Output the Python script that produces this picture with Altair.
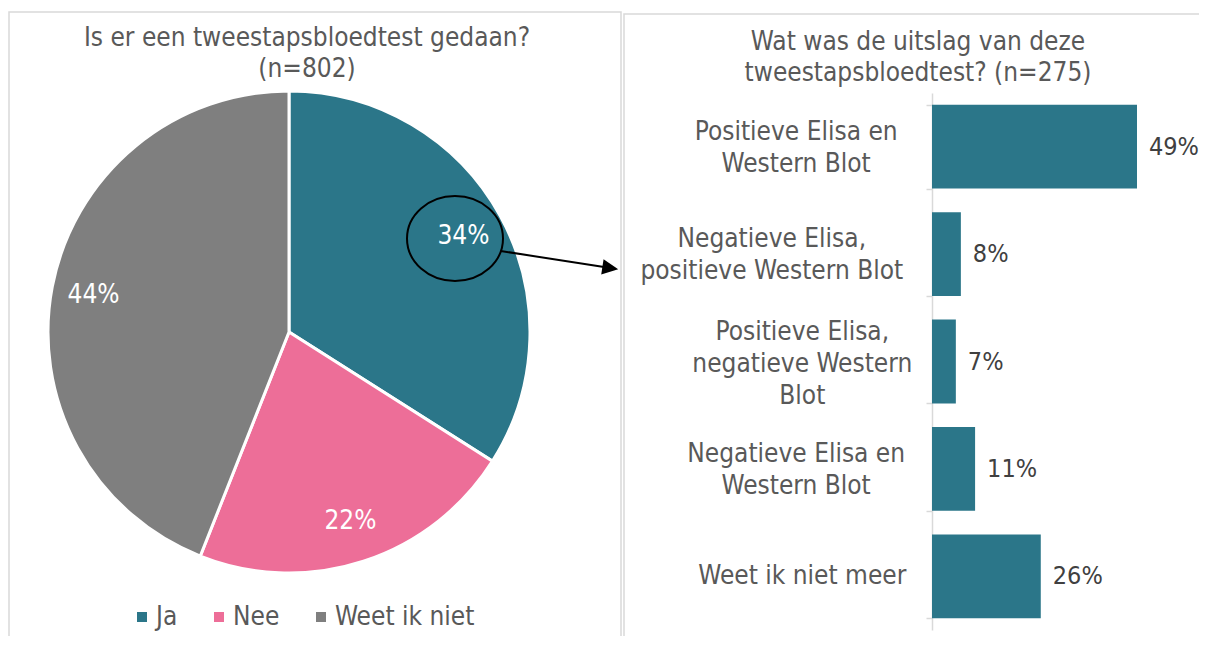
import altair as alt
import pandas as pd

FONT = "DejaVu Sans Condensed, Liberation Sans, Arial, sans-serif"

# ---- data ----
pie_cats = ["Ja", "Nee", "Weet ik niet"]
pie_vals = [34, 22, 44]
pie_colors = ["#2B7689", "#ED6E98", "#7F7F7F"]

bar_cats = [
    "Positieve Elisa en|Western Blot",
    "Negatieve Elisa,|positieve Western Blot",
    "Positieve Elisa,|negatieve Western|Blot",
    "Negatieve Elisa en|Western Blot",
    "Weet ik niet meer",
]
# bar lengths as drawn in the picture, and the printed labels
bar_vals = [49, 6.9, 5.7, 10.3, 26]
bar_labels = ["49%", "8%", "7%", "11%", "26%"]

left_title = ["Is er een tweestapsbloedtest gedaan?", "(n=802)"]
right_title = ["Wat was de uitslag van deze", "tweestapsbloedtest? (n=275)"]

TEAL = "#2B7689"
GREY_TXT = "#595959"
BORDER = "#D9D9D9"

pie_df = pd.DataFrame({"cat": pie_cats, "val": pie_vals, "ord": list(range(len(pie_cats)))})
bar_df = pd.DataFrame({"cat": bar_cats, "val": bar_vals, "lab": bar_labels})
one = pd.DataFrame({"a": [0]})

# ---- panel borders ----
border_l = alt.Chart(one).mark_rect(fillOpacity=0, stroke=BORDER, strokeWidth=1.5).encode(
    x=alt.value(1), x2=alt.value(613), y=alt.value(4), y2=alt.value(760)
)
border_r = alt.Chart(one).mark_rect(fillOpacity=0, stroke=BORDER, strokeWidth=1.5).encode(
    x=alt.value(616), x2=alt.value(1400), y=alt.value(6), y2=alt.value(760)
)

# ---- titles ----
def title_layer(lines, xc, y0):
    return alt.Chart(pd.DataFrame({"t": ["|".join(lines)]})).transform_calculate(
        lines="split(datum.t, '|')"
    ).mark_text(font=FONT, fontSize=26, color=GREY_TXT, align="center", baseline="middle", lineHeight=31).encode(
        x=alt.value(xc), y=alt.value(y0), text="lines:N"
    )

tl = title_layer(left_title, 299, 30)
tr = title_layer(right_title, 910, 34)

# ---- pie ----
base_pie = alt.Chart(pie_df).transform_calculate(lab="datum.val + '%'").encode(
    theta=alt.Theta("val:Q", stack=True),
    order=alt.Order("ord:Q"),
)
arcs = base_pie.mark_arc(outerRadius=241, stroke="white", strokeWidth=3).encode(
    x=alt.value(281),
    y=alt.value(324),
    color=alt.Color(
        "cat:N",
        scale=alt.Scale(domain=pie_cats, range=pie_colors),
        legend=alt.Legend(
            title=None,
            orient="none",
            legendX=121,
            legendY=596,
            direction="horizontal",
            symbolType="square",
            symbolSize=100,
            symbolStrokeWidth=0,
            labelFontSize=26,
            labelFont=FONT,
            labelColor=GREY_TXT,
            columnPadding=28,
            labelOffset=1,
            padding=0,
        ),
    ),
)
pie_txt = base_pie.mark_text(radius=199, font=FONT, fontSize=26, color="white").encode(
    x=alt.value(281), y=alt.value(324), text="lab:N"
)

# ---- annotation: ellipse + arrow ----
ellipse = alt.Chart(one).mark_point(
    shape="M -1 0 A 1 0.885 0 1 1 1 0 A 1 0.885 0 1 1 -1 0 Z",
    size=9216, filled=False, color="black", strokeWidth=2, opacity=1,
).encode(x=alt.value(447), y=alt.value(230.5))
arrow_line = alt.Chart(one).mark_rule(color="black", strokeWidth=2).encode(
    x=alt.value(492.7), y=alt.value(243), x2=alt.value(596), y2=alt.value(259)
)
arrow_head = alt.Chart(one).mark_point(
    shape="M 1 0 L -1 -0.95 L -1 0.95 Z", size=256, filled=True, color="black", angle=8.85, opacity=1,
).encode(x=alt.value(602.3), y=alt.value(260.1))

# ---- bars ----
ysc = alt.Scale(domain=bar_cats, range=[85, 622], paddingInner=0.22, paddingOuter=0.11)
xsc = alt.Scale(domain=[0, 49], range=[924, 1129], nice=False, zero=True)

bars = alt.Chart(bar_df).mark_bar(color=TEAL).encode(
    x=alt.X("val:Q", scale=xsc, axis=None),
    y=alt.Y(
        "cat:N",
        scale=ysc,
        sort=bar_cats,
        axis=alt.Axis(
            labels=False, title=None, offset=-924, grid=False,
            domainColor=BORDER, domainWidth=1.5, tickColor=BORDER, tickWidth=1.5,
            tickSize=6, tickBand="extent",
        ),
    ),
)
val_txt = alt.Chart(bar_df).mark_text(
    align="left", baseline="middle", dx=12, font=FONT, fontSize=25, color="#404040"
).encode(
    x=alt.X("val:Q", scale=xsc, axis=None),
    y=alt.Y("cat:N", scale=ysc, sort=bar_cats),
    text="lab:N",
)
cat_txt = alt.Chart(bar_df).transform_calculate(
    lines="split(datum.cat, '|')"
).transform_calculate(
    maxlen="max(length(datum.lines[0]), length(datum.lines[1] || ''), length(datum.lines[2] || ''))",
    nlines="length(datum.lines)",
).mark_text(
    align="center", baseline="middle", font=FONT, fontSize=26, color=GREY_TXT, lineHeight=32,
    dx=alt.ExprRef("-datum.maxlen * 6.1"),
    dy=alt.ExprRef("-(datum.nlines - 1) * 15"),
).encode(
    x=alt.value(898),
    y=alt.Y("cat:N", scale=ysc, sort=bar_cats),
    text="lines:N",
)

chart = alt.layer(
    border_l, border_r, tl, tr, arcs, pie_txt, ellipse, arrow_line, arrow_head, bars, val_txt, cat_txt
).properties(
    width=1191, height=628, padding=0, autosize=alt.AutoSizeParams(type="none")
).configure_view(strokeWidth=0)

chart.save("out.html", embed_options={"renderer": "svg", "actions": False})
